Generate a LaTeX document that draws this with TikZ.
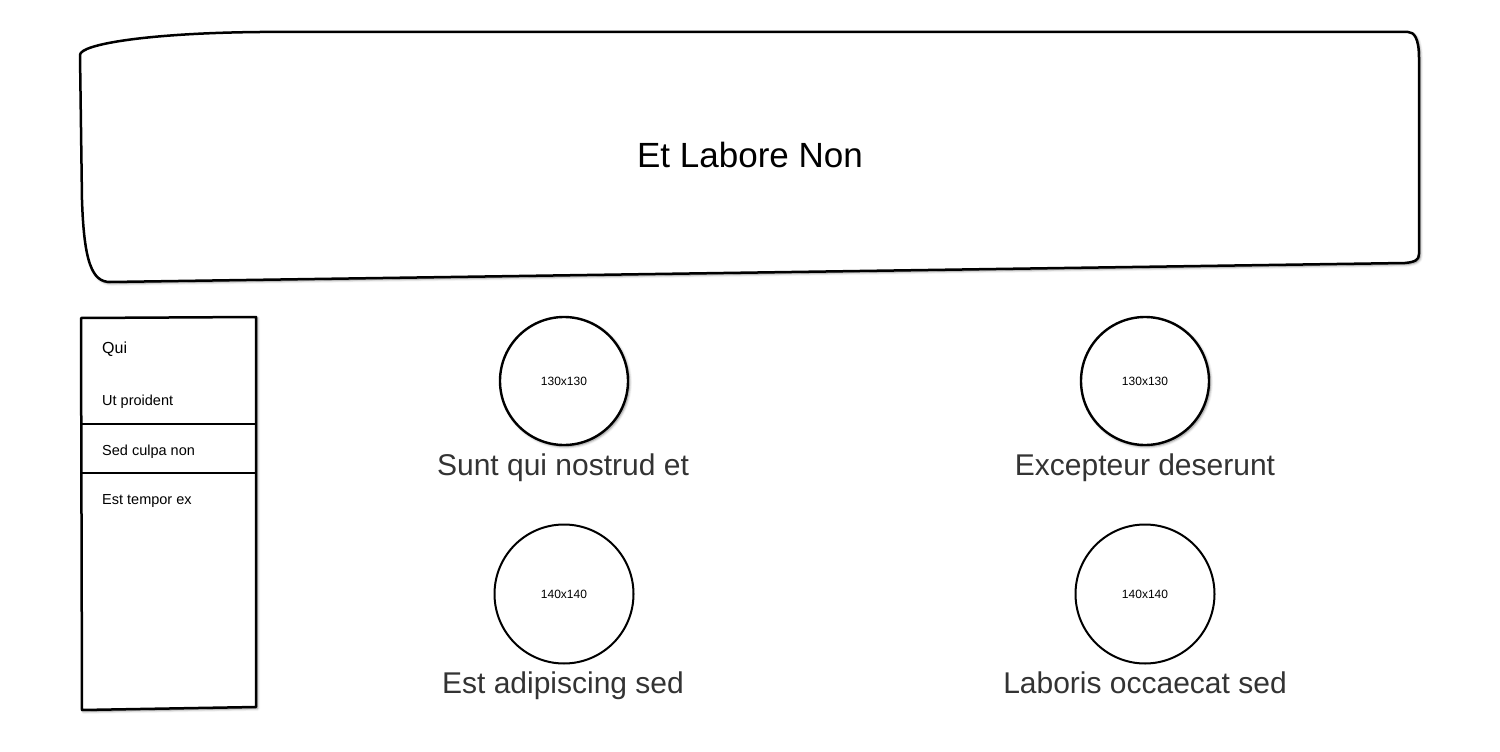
\documentclass[tikz,border=0pt]{standalone}
\usepackage{fontspec}
\setmainfont{Liberation Sans}
\usetikzlibrary{shadows.blur}
\definecolor{labelgray}{HTML}{333333}
\tikzset{
  shad/.style={blur shadow={shadow xshift=1.5pt, shadow yshift=-1.5pt, shadow blur radius=2.5pt, shadow opacity=50}},
  frame/.style={draw=black, line width=2.5pt, fill=white, line join=round},
  imgcircle/.style={circle, draw=black, line width=2.4pt, fill=white, inner sep=0pt, font=\fontsize{12}{14}\selectfont},
  caption/.style={text=labelgray, font=\fontsize{30}{34}\selectfont, inner sep=0pt, anchor=base},
  item/.style={anchor=base west, inner sep=0pt, font=\fontsize{14.5}{17}\selectfont}
}
\begin{document}
\begin{tikzpicture}[x=1pt,y=-1pt]
\useasboundingbox (0,0) rectangle (1500,752);
% banner
\path[frame, shad] (80,55) .. controls (80,44) and (150,33) .. (260,32) -- (1408,32)
  .. controls (1414,32) and (1419,38) .. (1419,58) -- (1419,254)
  .. controls (1419,260) and (1415,262) .. (1405,263) -- (110,282)
  .. controls (92,282) and (84,262) .. (82,200) -- cycle;
\node[font=\fontsize{35}{40}\selectfont, inner sep=0pt, anchor=base] (title) at (750,167) {Et Labore Non};
% sidebar
\path[frame, shad] (81,318) -- (256,317) -- (256,707) -- (82,710) -- cycle;
\coordinate (d1l) at (81,424); \coordinate (d1r) at (256,424);
\coordinate (d2l) at (81,473); \coordinate (d2r) at (256,473);
\draw[line width=2.5pt] (d1l) -- (d1r);
\draw[line width=2.5pt] (d2l) -- (d2r);
\node[item, font=\fontsize{16}{19}\selectfont] (qui) at (102,353) {Qui};
\node[item] (ut) at (102,405) {Ut proident};
\node[item] (sed) at (102,455) {Sed culpa non};
\node[item] (est) at (102,504) {Est tempor ex};
% circles
\node[imgcircle, shad, minimum size=128pt] (c1) at (564,381) {130x130};
\node[imgcircle, shad, minimum size=128pt] (c2) at (1145,381) {130x130};
\node[imgcircle, line width=2pt, minimum size=139pt] (c3) at (564,594) {140x140};
\node[imgcircle, line width=2pt, minimum size=139pt] (c4) at (1145,594) {140x140};
% captions
\node[caption] (l1) at (563,475) {Sunt qui nostrud et};
\node[caption] (l2) at (1145,475) {Excepteur deserunt};
\node[caption] (l3) at (563,693) {Est adipiscing sed};
\node[caption] (l4) at (1145,693) {Laboris occaecat sed};
\end{tikzpicture}
\end{document}
